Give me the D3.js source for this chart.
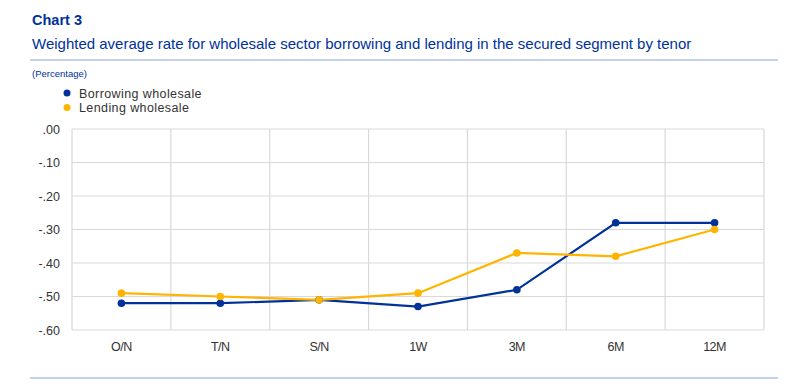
<!DOCTYPE html>
<html>
<head>
<meta charset="utf-8">
<script src="https://cdn.jsdelivr.net/npm/d3@7"></script>
<style>
  body { margin: 0; background: #fff; }
  svg { font-family: Arial, "Liberation Sans", sans-serif; }
</style>
</head>
<body>
<div id="chart"></div>
<script>
// Data
const tenors = ["O/N", "T/N", "S/N", "1W", "3M", "6M", "12M"];
const borrowing = [-0.52, -0.52, -0.51, -0.53, -0.48, -0.28, -0.28];
const lending = [-0.49, -0.50, -0.51, -0.49, -0.37, -0.38, -0.30];
const yTicks = [0, -0.1, -0.2, -0.3, -0.4, -0.5, -0.6];
const seriesNames = ["Borrowing wholesale", "Lending wholesale"];
const seriesColors = ["#003299", "#ffb400"];

const W = 800, H = 386;
const margin = {top: 129, right: 36, bottom: 56, left: 72};
const width = W - margin.left - margin.right,
      height = H - margin.top - margin.bottom;

const svg = d3.select("#chart").append("svg")
    .attr("width", W)
    .attr("height", H);

// Header
svg.append("text").attr("x", 32).attr("y", 25)
    .attr("fill", "#003299").attr("font-size", 14.5).attr("font-weight", "bold")
    .text("Chart 3");
svg.append("text").attr("x", 32).attr("y", 49)
    .attr("fill", "#003299").attr("font-size", 15)
    .text("Weighted average rate for wholesale sector borrowing and lending in the secured segment by tenor");
svg.append("line").attr("x1", 30).attr("x2", 778).attr("y1", 60).attr("y2", 60)
    .attr("stroke", "#8aa4dd").attr("stroke-width", 1);
svg.append("text").attr("x", 32).attr("y", 77)
    .attr("fill", "#003299").attr("font-size", 9.5)
    .text("(Percentage)");
svg.append("line").attr("x1", 30).attr("x2", 778).attr("y1", 378).attr("y2", 378)
    .attr("stroke", "#8aa4dd").attr("stroke-width", 1);

// Legend
const legend = svg.append("g").selectAll("g")
    .data(seriesNames)
    .join("g")
    .attr("transform", (d, i) => `translate(67,${93 + i * 14.5})`);
legend.append("circle").attr("r", 3.5).attr("fill", (d, i) => seriesColors[i]);
legend.append("text").attr("x", 12).attr("y", 4.5)
    .attr("font-size", 12.5).attr("fill", "#333").attr("letter-spacing", 0.4)
    .text(d => d);

const g = svg.append("g")
    .attr("transform", "translate(" + margin.left + "," + margin.top + ")");

// Scales
const x = d3.scaleBand().domain(tenors).range([0, width]);
const y = d3.scaleLinear().domain([-0.6, 0]).range([height, 0]);

// Grid
g.append("g").selectAll("line")
    .data(yTicks)
    .join("line")
    .attr("x1", 0).attr("x2", width)
    .attr("y1", d => y(d)).attr("y2", d => y(d))
    .attr("stroke", "#d9d9d9").attr("stroke-width", 1.2);
g.append("g").selectAll("line")
    .data(tenors.concat(["end"]))
    .join("line")
    .attr("x1", (d, i) => i * x.step()).attr("x2", (d, i) => i * x.step())
    .attr("y1", 0).attr("y2", height)
    .attr("stroke", "#d9d9d9").attr("stroke-width", 1.2);

// Axes
const yAxis = g.append("g")
    .call(d3.axisLeft(y).tickValues(yTicks).tickSize(0).tickPadding(12)
        .tickFormat(d => d3.format(".2f")(d).replace("0.", ".").replace("−", "-")));
yAxis.select(".domain").remove();
yAxis.selectAll("text").attr("font-size", 12.5).attr("fill", "#333").attr("font-family", "Arial, sans-serif");

const xAxis = g.append("g")
    .attr("transform", "translate(0," + height + ")")
    .call(d3.axisBottom(x).tickSize(0).tickPadding(12));
xAxis.select(".domain").remove();
xAxis.selectAll("text").attr("font-size", 12.5).attr("fill", "#333").attr("font-family", "Arial, sans-serif")
    .attr("letter-spacing", -0.5);

// Lines
const line = d3.line()
    .x((d, i) => x(tenors[i]) + x.bandwidth() / 2)
    .y(d => y(d));

[borrowing, lending].forEach((values, k) => {
    g.append("path")
        .datum(values)
        .attr("d", line)
        .attr("fill", "none")
        .attr("stroke", seriesColors[k])
        .attr("stroke-width", 2.2);
});
[borrowing, lending].forEach((values, k) => {
    g.append("g").selectAll("circle")
        .data(values)
        .join("circle")
        .attr("cx", (d, i) => x(tenors[i]) + x.bandwidth() / 2)
        .attr("cy", d => y(d))
        .attr("r", 3.8)
        .attr("fill", seriesColors[k]);
});
</script>
</body>
</html>
